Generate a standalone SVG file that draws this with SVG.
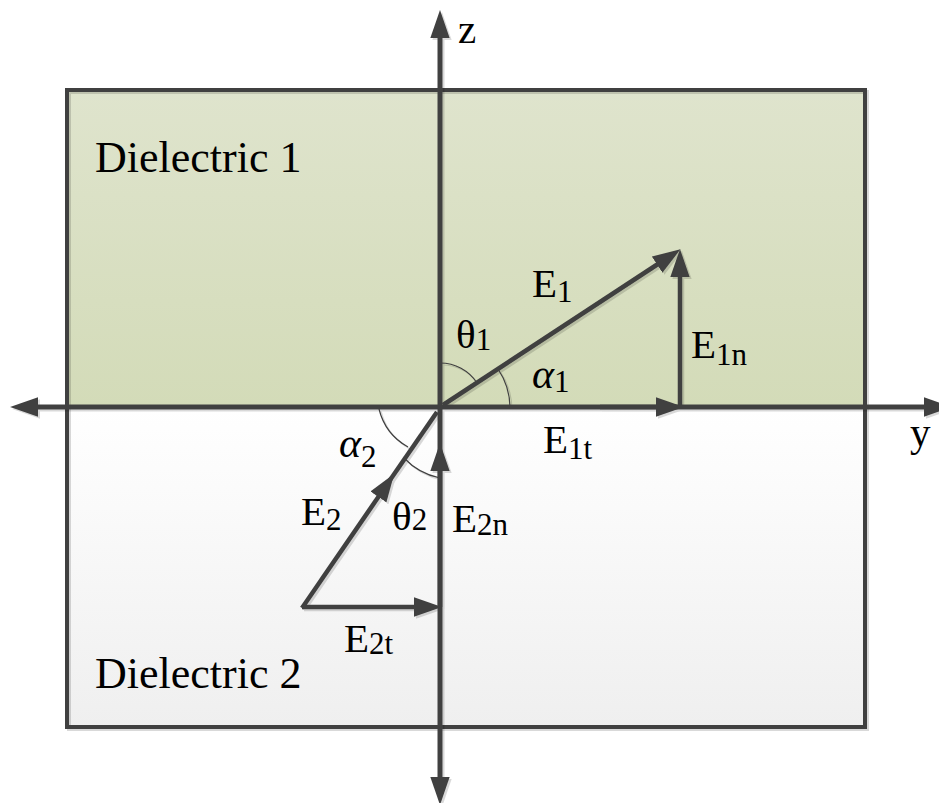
<svg xmlns="http://www.w3.org/2000/svg" width="939" height="803" viewBox="0 0 939 803">
<style>
.ln{stroke:#404040;stroke-width:5;fill:none}
.vec{stroke:#404040;stroke-width:4.5;fill:none}
.arc{stroke:#404040;stroke-width:1.2;fill:none}
.t{font-family:"Liberation Serif","Times New Roman",serif;fill:#000}
.lab{font-size:41px}
.sub{font-size:31px}
.al{font-style:italic;font-size:42px}
</style>
<defs>
<linearGradient id="gTop" x1="0" y1="0" x2="0" y2="1">
<stop offset="0" stop-color="#dfe4cd"/>
<stop offset="1" stop-color="#d3dbb8"/>
</linearGradient>
<linearGradient id="gBot" x1="0" y1="0" x2="0" y2="1">
<stop offset="0" stop-color="#ffffff"/>
<stop offset="1" stop-color="#efefef"/>
</linearGradient>
<marker id="ah" markerUnits="userSpaceOnUse" markerWidth="28" markerHeight="20" viewBox="0 0 26 18" refX="1" refY="9" orient="auto">
<path d="M0,0 L26,9 L0,18 z" fill="#404040"/>
</marker>
<filter id="sh" x="-5%" y="-5%" width="110%" height="110%">
<feDropShadow dx="2" dy="2" stdDeviation="0.7" flood-color="#000" flood-opacity="0.15"/>
</filter>
</defs>

<g id="dielectric1">
<rect x="67" y="90" width="798" height="317" fill="url(#gTop)"/>
<text class="t" x="95" y="172" font-size="44">Dielectric 1</text>
</g>
<g id="dielectric2">
<rect x="67" y="407" width="798" height="320" fill="url(#gBot)"/>
<text class="t" x="95" y="688" font-size="44">Dielectric 2</text>
</g>
<g id="border" filter="url(#sh)">
<rect x="67" y="90" width="798" height="637" fill="none" stroke="#404040" stroke-width="4"/>
</g>

<g id="connectors" filter="url(#sh)">
<line id="y-axis-right" class="ln" x1="440" y1="407" x2="925" y2="407" marker-end="url(#ah)"/>
<line id="y-axis-left" class="ln" x1="440" y1="407" x2="37" y2="407" marker-end="url(#ah)"/>
<line id="z-axis-up" class="ln" x1="440" y1="407" x2="440" y2="37" marker-end="url(#ah)"/>
<line id="z-axis-down" class="ln" x1="440" y1="407" x2="440" y2="778" marker-end="url(#ah)"/>
<line id="E1" class="vec" x1="443" y1="405" x2="658" y2="264" marker-end="url(#ah)"/>
<line id="E1n" class="vec" x1="680" y1="407" x2="680" y2="276" marker-end="url(#ah)"/>
<line id="E1t" class="vec" x1="600" y1="407" x2="657" y2="407" marker-end="url(#ah)"/>
<line id="E2a" class="vec" x1="302" y1="608" x2="379" y2="496" marker-end="url(#ah)"/>
<line id="E2b" class="vec" x1="379" y1="496" x2="437" y2="412"/>
<line id="E2t" class="vec" x1="302" y1="607" x2="415" y2="607" marker-end="url(#ah)"/>
<line id="E2n" class="vec" x1="440" y1="607" x2="440" y2="470" marker-end="url(#ah)"/>
<path id="arc-theta1" class="arc" d="M440,363 A44,44 0 0 1 477,383"/>
<path id="arc-alpha1" class="arc" d="M498,369 A70,70 0 0 1 510,407"/>
<path id="arc-alpha2" class="arc" d="M379,409 A60,60 0 0 0 408,447"/>
<path id="arc-theta2" class="arc" d="M404,458 A68,68 0 0 0 440,478"/>
</g>

<g id="labels">
<text class="t lab" x="458" y="43">z</text>
<text class="t lab" x="910" y="446">y</text>
<text class="t lab" x="532" y="297">E<tspan class="sub" dy="5">1</tspan></text>
<text class="t lab" x="691" y="358">E<tspan class="sub" dy="7">1n</tspan></text>
<text class="t lab" x="543" y="453">E<tspan class="sub" dy="6">1t</tspan></text>
<text class="t lab" x="456" y="348">θ<tspan class="sub" dy="2">1</tspan></text>
<text class="t al" x="532" y="388">α<tspan class="sub" font-style="normal" dy="4">1</tspan></text>
<text class="t al" x="339" y="457">α<tspan class="sub" font-style="normal" dy="10">2</tspan></text>
<text class="t lab" x="301" y="525">E<tspan class="sub" dy="5">2</tspan></text>
<text class="t lab" x="392" y="530">θ<tspan class="sub" dy="0">2</tspan></text>
<text class="t lab" x="452" y="532">E<tspan class="sub" dy="3">2n</tspan></text>
<text class="t lab" x="344" y="652">E<tspan class="sub" dy="2">2t</tspan></text>
</g>
</svg>
